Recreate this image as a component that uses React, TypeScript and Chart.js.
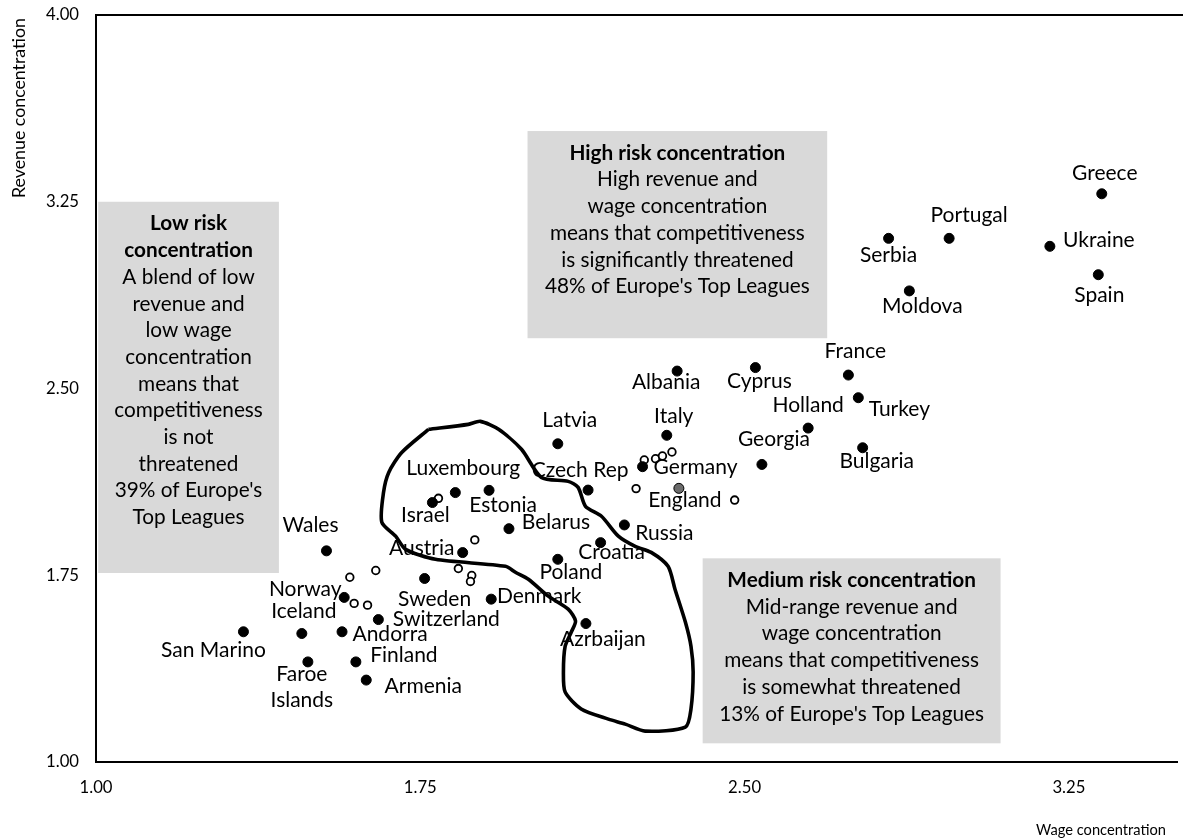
import React, { useEffect, useRef } from 'react';
import { Chart, registerables } from 'chart.js';

Chart.register(...registerables);

// ---------- data ----------
const countries = [
  'Greece', 'Portugal', 'Serbia', 'Ukraine', 'Spain', 'Moldova', 'France', 'Turkey', 'Holland', 'Bulgaria',
  'Georgia', 'Cyprus', 'Albania', 'Italy', 'Latvia', 'Germany', 'England', 'Czech Rep', 'Russia', 'Croatia',
  'Poland', 'Belarus', 'Luxembourg', 'Estonia', 'Israel', 'Austria', 'Denmark', 'Sweden', 'Azrbaijan', 'Wales',
  'Norway', 'Switzerland', 'Andorra', 'Iceland', 'San Marino', 'Finland', 'Faroe\nIslands', 'Armenia',
];
const wageConcentration = [
  3.326, 2.973, 2.833, 3.206, 3.318, 2.881, 2.740, 2.763, 2.647, 2.773,
  2.540, 2.525, 2.344, 2.320, 2.068, 2.264, 2.348, 2.138, 2.222, 2.167,
  2.068, 1.955, 1.831, 1.909, 1.778, 1.848, 1.914, 1.760, 2.133, 1.533,
  1.574, 1.653, 1.569, 1.476, 1.341, 1.601, 1.490, 1.625,
];
const revenueConcentration = [
  3.282, 3.103, 3.103, 3.071, 2.957, 2.892, 2.554, 2.463, 2.341, 2.262,
  2.195, 2.584, 2.570, 2.312, 2.278, 2.186, 2.099, 2.092, 1.952, 1.881,
  1.814, 1.937, 2.082, 2.091, 2.042, 1.841, 1.654, 1.737, 1.556, 1.848,
  1.661, 1.572, 1.523, 1.516, 1.523, 1.402, 1.402, 1.329,
];
const highlighted = ['England'];

// unlabelled leagues (open circles)
const otherWage = [1.792, 1.876, 1.587, 1.647, 1.597, 1.628, 1.838, 1.869, 1.866, 2.268, 2.294, 2.310, 2.332, 2.249, 2.477];
const otherRevenue = [2.059, 1.892, 1.742, 1.769, 1.637, 1.630, 1.777, 1.749, 1.725, 2.213, 2.218, 2.229, 2.245, 2.098, 2.052];

// hand-drawn outline
const outlineWage = [
  1.769, 1.861, 1.889, 1.931, 1.984, 2.030, 2.092, 2.115, 2.132, 2.169,
  2.208, 2.247, 2.284, 2.323, 2.339, 2.363, 2.376, 2.381, 2.376, 2.363,
  2.270, 2.224, 2.185, 2.122, 2.085, 2.081, 2.085, 2.099, 2.109, 2.092,
  2.046, 2.000, 1.970, 1.947, 1.785, 1.716, 1.693, 1.661, 1.665, 1.677,
  1.707, 1.769,
];
const outlineRevenue = [
  2.336, 2.356, 2.368, 2.336, 2.256, 2.143, 2.127, 2.103, 2.027, 1.987,
  1.907, 1.866, 1.842, 1.786, 1.694, 1.562, 1.465, 1.361, 1.213, 1.140,
  1.124, 1.152, 1.172, 1.213, 1.281, 1.361, 1.465, 1.521, 1.566, 1.614,
  1.666, 1.734, 1.762, 1.786, 1.814, 1.854, 1.907, 1.963, 2.083, 2.163,
  2.243, 2.336,
];

const xTicks = [1, 1.75, 2.5, 3.25];
const yTicks = [1, 1.75, 2.5, 3.25, 4];
const xTitle = 'Wage concentration';
const yTitle = 'Revenue concentration';

// ---------- label placement (pixels, relative to each point) ----------
const labelDx = [3, 20, 0, 49, 1, 13, 7, 41, 0, 14, 12, 4, -11, 7, 12, 53, 6, -8, 40, 11, 13, 47, 8, 14, -7, -41, 48, 10, 17, -16, -39, 68, 48, 2, -30, 48, -6, 57];
const labelDy = [-21, -23, 17, -6, 21, 15, -24, 12, -23, 13, -25, 14, 11, -19, -24, 1, 12, -20, 8, 10, 13, -6, -24, 15, 13, -4, -3, 21, 16, -26, -8, 0, 2, -22, 18, -7, 12, 6];

// ---------- annotation boxes (data coordinates) ----------
const boxes = [
  {
    x0: 1.005, x1: 1.423, y0: 1.759, y1: 3.25,
    bold: ['Low risk', 'concentration'],
    body: ['A blend of low', 'revenue and', 'low wage', 'concentration', 'means that', 'competitiveness', 'is not', 'threatened', "39% of Europe's", 'Top Leagues'],
  },
  {
    x0: 1.998, x1: 2.691, y0: 2.702, y1: 3.534,
    bold: ['High risk concentration'],
    body: ['High revenue and', 'wage concentration', 'means that competitiveness', 'is significantly threatened', "48% of Europe's Top Leagues"],
  },
  {
    x0: 2.403, x1: 3.092, y0: 1.075, y1: 1.818,
    bold: ['Medium risk concentration'],
    body: ['Mid-range revenue and', 'wage concentration', 'means that competitiveness', 'is somewhat threatened', "13% of Europe's Top Leagues"],
  },
];

const FAMILY = 'Lato, "Open Sans", "DejaVu Sans", sans-serif';

function fitSize(text: string, width: number, weight = 'normal'): number {
  const c = document.createElement('canvas').getContext('2d');
  if (!c) return 16;
  c.font = `${weight} 100px ${FAMILY}`;
  return (100 * width) / c.measureText(text).width;
}

export default function App() {
  const ref = useRef<HTMLCanvasElement | null>(null);

  useEffect(() => {
    document.body.style.margin = '0';
    const canvas = ref.current;
    if (!canvas) return;

    const tickSize = fitSize('1.00', 33);
    const labelSize = fitSize('Luxembourg', 114);
    const boxSize = fitSize('means that competitiveness', 255);
    const yTitleSize = fitSize(yTitle, 180);
    const xTitleSize = fitSize(xTitle, 130);

    const overlay = {
      id: 'overlay',
      beforeDatasetsDraw(chart: any) {
        const { ctx, scales } = chart;
        const x = scales.x;
        const y = scales.y;
        ctx.save();
        for (const b of boxes) {
          const l = x.getPixelForValue(b.x0);
          const r = x.getPixelForValue(b.x1);
          const t = y.getPixelForValue(b.y1);
          const bt = y.getPixelForValue(b.y0);
          ctx.fillStyle = '#d9d9d9';
          ctx.fillRect(l, t, r - l, bt - t);
          ctx.fillStyle = '#000';
          ctx.textAlign = 'center';
          ctx.textBaseline = 'middle';
          const cx = (l + r) / 2;
          let ly = t + 22;
          const lh = 26.7;
          ctx.font = `bold ${boxSize}px ${FAMILY}`;
          for (const s of b.bold) {
            ctx.fillText(s, cx, ly);
            ly += lh;
          }
          ctx.font = `normal ${boxSize}px ${FAMILY}`;
          for (const s of b.body) {
            ctx.fillText(s, cx, ly);
            ly += lh;
          }
        }
        ctx.restore();
      },
      afterDatasetsDraw(chart: any) {
        const { ctx, chartArea } = chart;
        ctx.save();
        // top border
        ctx.strokeStyle = '#000';
        ctx.lineWidth = 2;
        ctx.beginPath();
        ctx.moveTo(chartArea.left - 1, chartArea.top);
        ctx.lineTo(chart.width, chartArea.top);
        ctx.stroke();

        // point labels
        const meta = chart.getDatasetMeta(0);
        ctx.fillStyle = '#000';
        ctx.font = `normal ${labelSize}px ${FAMILY}`;
        ctx.textAlign = 'center';
        ctx.textBaseline = 'middle';
        meta.data.forEach((pt: any, i: number) => {
          const lines = countries[i].split('\n');
          lines.forEach((s, k) => {
            ctx.fillText(s, pt.x + labelDx[i], pt.y + labelDy[i] + k * 26);
          });
        });

        // axis titles
        ctx.font = `normal ${xTitleSize}px ${FAMILY}`;
        ctx.fillText(xTitle, 1101, 830);
        ctx.font = `normal ${yTitleSize}px ${FAMILY}`;
        ctx.translate(19, 108);
        ctx.rotate(-Math.PI / 2);
        ctx.fillText(yTitle, 0, 0);
        ctx.restore();
      },
    };

    const chart = new Chart(canvas, {
      type: 'scatter',
      data: {
        datasets: [
          {
            label: 'Leagues',
            data: wageConcentration.map((v, i) => ({ x: v, y: revenueConcentration[i] })),
            pointRadius: 5,
            pointBorderWidth: 1,
            pointBorderColor: '#000',
            pointBackgroundColor: (c: any) => (highlighted.includes(countries[c.dataIndex]) ? '#6b6b6b' : '#000'),
          },
          {
            label: 'Other leagues',
            data: otherWage.map((v, i) => ({ x: v, y: otherRevenue[i] })),
            pointRadius: 3.8,
            pointBorderWidth: 1.8,
            pointBorderColor: '#000',
            pointBackgroundColor: '#fff',
          },
          {
            label: 'Outline',
            data: outlineWage.map((v, i) => ({ x: v, y: outlineRevenue[i] })),
            showLine: true,
            borderColor: '#000',
            borderWidth: 3.6,
            pointRadius: 0,
            tension: 0.25,
            fill: false,
          },
        ],
      },
      options: {
        responsive: false,
        animation: false,
        devicePixelRatio: 1,
        layout: { padding: { top: 15, right: 3, left: 0, bottom: 0 } },
        plugins: { legend: { display: false }, tooltip: { enabled: false } },
        scales: {
          x: {
            type: 'linear',
            min: 1,
            max: 3.5,
            afterBuildTicks: (s: any) => {
              s.ticks = xTicks.map((v) => ({ value: v }));
            },
            afterFit: (s: any) => {
              s.height = 78;
              s.paddingLeft = 0;
              s.paddingRight = 0;
            },
            grid: { display: false, drawTicks: false },
            border: { display: true, color: '#000', width: 2 },
            ticks: {
              padding: 16,
              color: '#000',
              maxRotation: 0,
              autoSkip: false,
              font: { family: FAMILY, size: tickSize },
              callback: (v: any) => Number(v).toFixed(2),
            },
          },
          y: {
            type: 'linear',
            min: 1,
            max: 4,
            afterBuildTicks: (s: any) => {
              s.ticks = yTicks.map((v) => ({ value: v }));
            },
            afterFit: (s: any) => {
              s.width = 96;
              s.paddingTop = 0;
              s.paddingBottom = 0;
            },
            grid: { display: false, drawTicks: false },
            border: { display: true, color: '#000', width: 2 },
            ticks: {
              padding: 17,
              color: '#000',
              autoSkip: false,
              font: { family: FAMILY, size: tickSize },
              callback: (v: any) => Number(v).toFixed(2),
            },
          },
        },
      },
      plugins: [overlay],
    } as any);

    return () => chart.destroy();
  }, []);

  return <canvas ref={ref} width={1183} height={840} style={{ display: 'block' }} />;
}
